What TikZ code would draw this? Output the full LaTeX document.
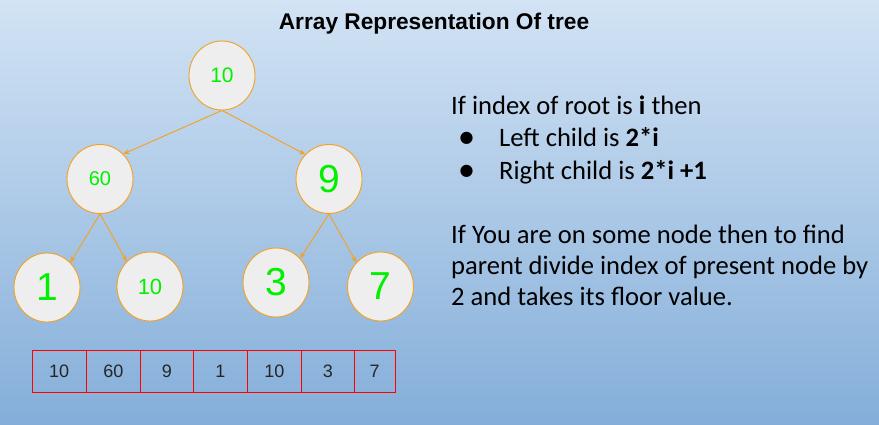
\documentclass[tikz,border=0pt]{standalone}
\usepackage{fontspec}
\setmainfont{Carlito}
\newfontfamily\arial{Liberation Sans}
\newfontfamily\dejavu{DejaVu Sans}
\usetikzlibrary{shapes.geometric,arrows.meta}
\definecolor{bgtop}{RGB}{210,227,244}
\definecolor{bgbot}{RGB}{132,174,217}
\definecolor{ringc}{RGB}{245,160,30}
\definecolor{fillc}{RGB}{238,238,238}
\definecolor{numc}{RGB}{0,240,0}
\tikzset{
  treenode/.style={ellipse, draw=ringc, fill=fillc, line width=0.9pt,
    minimum width=66pt, minimum height=69pt, inner sep=0pt, text=numc},
  edge/.style={draw=ringc, line width=0.9pt, -{Stealth[length=6pt,width=5pt]}},
  cell/.style={rectangle, draw=red, line width=1pt, minimum height=42pt,
    inner sep=0pt, font=\arial\fontsize{18}{20}\selectfont, text=black!85},
  rtext/.style={anchor=base west, inner sep=0pt, font=\fontsize{26.6}{30}\selectfont}
}
\begin{document}
\begin{tikzpicture}[x=1pt,y=-1pt]
\useasboundingbox (0,0) rectangle (879,424);
\fill[top color=bgtop, bottom color=bgbot] (0,0) rectangle (879,424);

\node[anchor=base, inner sep=0pt, font=\arial\bfseries\fontsize{22.7}{26}\selectfont] (title) at (434,29.3) {Array Representation Of tree};

\node[treenode, font=\arial\fontsize{21}{24}\selectfont] (root) at (222,75.5) {10};
\node[treenode, font=\arial\fontsize{20}{24}\selectfont] (n60) at (100,179) {60};
\node[treenode, font=\arial\fontsize{39}{44}\selectfont] (n9) at (329,179) {9};
\node[treenode, font=\arial\fontsize{39}{44}\selectfont] (n1) at (47,287.5) {1};
\node[treenode, font=\arial\fontsize{22}{24}\selectfont] (n10) at (150,286.5) {10};
\node[treenode, font=\arial\fontsize{39}{44}\selectfont] (n3) at (276,282.5) {3};
\node[treenode, font=\arial\fontsize{39}{44}\selectfont] (n7) at (380.5,286.5) {7};

\draw[edge] (root.south) -- (n60.47);
\draw[edge] (root.south) -- (n9.134);
\draw[edge] (n60.south) -- (n1.47);
\draw[edge] (n60.south) -- (n10.133);
\draw[edge] (n9.south) -- (n3.45);
\draw[edge] (n9.south) -- (n7.135);

\node[cell, minimum width=54.5pt] (c1) at (59.25,371) {10};
\node[cell, minimum width=54pt] (c2) at (113.5,371) {60};
\node[cell, minimum width=53pt] (c3) at (167,371) {9};
\node[cell, minimum width=54pt] (c4) at (220.5,371) {1};
\node[cell, minimum width=54pt] (c5) at (274.5,371) {10};
\node[cell, minimum width=53pt] (c6) at (328,371) {3};
\node[cell, minimum width=40.5pt] (c7) at (374.75,371) {7};

\node[rtext] (t1) at (451,114.3) {If index of root is \textbf{i} then};
\node[anchor=center, inner sep=0pt, font=\dejavu\fontsize{16}{20}\selectfont] (b1) at (466.5,138.7) {●};
\node[rtext] (t2) at (499,146.7) {Left child is \textbf{2*i}};
\node[anchor=center, inner sep=0pt, font=\dejavu\fontsize{16}{20}\selectfont] (b2) at (466.5,171.3) {●};
\node[rtext] (t3) at (499,179) {Right child is \textbf{2*i +1}};
\node[rtext] (t4) at (451,243.3) {If You are on some node then to find};
\node[rtext] (t5) at (451,274.3) {parent divide index of present node by};
\node[rtext] (t6) at (451,305) {2 and takes its floor value.};
\end{tikzpicture}
\end{document}
